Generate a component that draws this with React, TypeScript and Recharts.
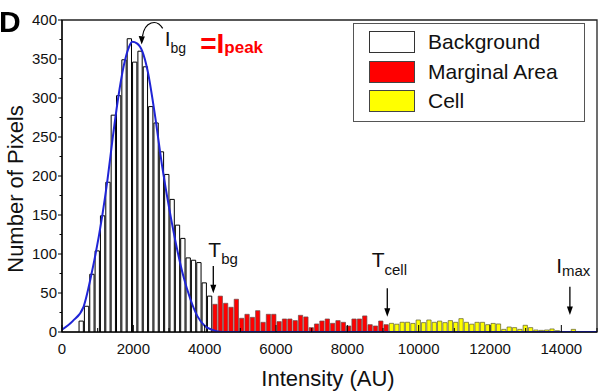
import React from 'react';
import {
  ComposedChart,
  Bar,
  Line,
  XAxis,
  YAxis,
  ReferenceArea,
  ReferenceDot,
  Legend,
  Label,
} from 'recharts';

const FONT = '"Liberation Sans", Arial, Helvetica, sans-serif';

// histogram bins of 150 AU each, starting at 0
const binWidth = 150;
const backgroundCounts = [
  null, null, null, 14, 33, 74, 104, 149, 192, 278, 303, 349, 376, 346, 360, 340,
  289, 268, 231, 202, 170, 137, 120, 95, 92, 89, 63, 46,
];
const marginalCounts = [
  35.5, 46, 36.8, 31.7, 42, 17.6, 22.7, 18.8, 27.4, 12.4, 22.7, 22.7, 13.3, 16.7,
  16.7, 14.6, 21.4, 19.3, 5.6, 10.3, 14.1, 16.7, 11.1, 14.6, 12.4, 7.7, 16.7, 16.7,
  20.6, 9.4, 7.7, 14.1, 9.4,
];
const cellCounts = [
  11.1, 10, 12.5, 12.5, 11, 15.4, 12, 15.4, 12.4, 14, 12, 14.6, 12.4, 17.1, 12.4, 10,
  12.4, 12.4, 9.4, 11, 10.3, 3.4, 6.4, 5.6, 3.4, 8.6, 5.6, 2.6, 2.1, 2.6, 3.9, 1.7,
  0, 0, 3.4, 0, 0, 0, 0,
];

// fitted curve
const fitIntensity = [
  0, 300, 600, 825, 1125, 1275, 1425, 1575, 1725, 1875, 1970, 2100, 2250, 2400, 2600,
  2800, 3000, 3200, 3400, 3600, 3800, 4000, 4200, 4500, 15000,
];
const fitCounts = [
  3, 14, 32, 74, 148, 195, 250, 300, 340, 365, 372, 370, 360, 335, 280, 215, 160, 112,
  72, 42, 20, 8, 3, 0, 0,
];

const xTicks = [0, 1000, 2000, 3000, 4000, 5000, 6000, 7000, 8000, 9000, 10000, 11000, 12000, 13000, 14000, 15000];
const yTicks = [0, 25, 50, 75, 100, 125, 150, 175, 200, 225, 250, 275, 300, 325, 350, 375, 400];

const seriesKeys = ['bg', 'marg', 'cell'] as const;
const seriesNames = { bg: 'Background', marg: 'Marginal Area', cell: 'Cell' };
const seriesFill = { bg: '#ffffff', marg: '#ff0000', cell: '#ffff00' };
const seriesStroke = { bg: '#000000', marg: '#6a4a4a', cell: '#5a5a30' };

const histogram = [
  ...backgroundCounts.map((v) => ({ bg: v })),
  ...marginalCounts.map((v) => ({ marg: v })),
  ...cellCounts.map((v) => ({ cell: v })),
].map((d, i) => ({ bin: i * binWidth + binWidth / 2, ...d }));

const fitData = fitIntensity.map((x, i) => ({ intensity: x, fit: fitCounts[i] }));

const XTick = (p: any) => {
  const { x, y, payload } = p;
  const v = payload.value;
  const major = v % 2000 === 0;
  return (
    <g>
      <line x1={x} x2={x} y1={y} y2={y - (major ? 7 : 4)} stroke="#000" strokeWidth={1} />
      {major && v < 15000 && (
        <text x={x} y={y + 21.5} textAnchor="middle" fontSize={15} fontFamily={FONT} fill="#111">
          {v}
        </text>
      )}
    </g>
  );
};

const YTick = (p: any) => {
  const { x, y, payload } = p;
  const v = payload.value;
  const major = v % 50 === 0;
  return (
    <g>
      <line x1={x} x2={x - (major ? 4 : 2.5)} y1={y} y2={y} stroke="#000" strokeWidth={1} />
      {major && (
        <text x={x - 5} y={y + 5.3} textAnchor="end" fontSize={15} fontFamily={FONT} fill="#111">
          {v}
        </text>
      )}
    </g>
  );
};

const XLabel = (props: any) => {
  const vb = props.viewBox || {};
  return (
    <text x={vb.x + vb.width / 2 - 1.5} y={vb.y + 54} textAnchor="middle" fontSize={22} fontFamily={FONT} fill="#111">
      Intensity (AU)
    </text>
  );
};

const YLabel = (props: any) => {
  const vb = props.viewBox || {};
  const cx = 15.5;
  const cy = vb.y + vb.height / 2 + 13;
  return (
    <text
      x={cx}
      y={cy}
      textAnchor="middle"
      dominantBaseline="central"
      transform={`rotate(-90, ${cx}, ${cy})`}
      fontSize={22}
      fontFamily={FONT}
      fill="#111"
    >
      Number of Pixels
    </text>
  );
};

const LegendBox = (props: any) => {
  const items = (props.payload || [])
    .filter((e: any) => seriesKeys.includes(e.dataKey))
    .sort((a: any, b: any) => seriesKeys.indexOf(a.dataKey) - seriesKeys.indexOf(b.dataKey));
  return (
    <div
      style={{
        width: 232,
        height: 99,
        boxSizing: 'border-box',
        border: '1px solid #555',
        background: '#fff',
        position: 'relative',
        fontFamily: FONT,
        fontSize: 21,
        color: '#111',
      }}
    >
      {items.map((e: any, i: number) => (
        <div key={e.dataKey} style={{ position: 'absolute', left: 0, top: [7, 37.3, 66.3][i], height: 23, width: 232 }}>
          <div
            style={{
              position: 'absolute',
              left: 15,
              top: 0,
              width: 46,
              height: 22,
              boxSizing: 'border-box',
              background: seriesFill[e.dataKey as keyof typeof seriesFill],
              border: `1px solid ${e.dataKey === 'bg' ? '#333' : '#444'}`,
            }}
          />
          <div style={{ position: 'absolute', left: 74, top: 0, height: 22, lineHeight: '22px', whiteSpace: 'nowrap' }}>
            {e.value}
          </div>
        </div>
      ))}
    </div>
  );
};

const DownArrow = (props: any) => {
  const { cx, cy, len, main, sub, tx, ty, subDy } = props;
  return (
    <g>
      <line x1={cx} x2={cx} y1={cy - len} y2={cy - 7} stroke="#000" strokeWidth={1.3} />
      <polygon points={`${cx},${cy} ${cx - 3},${cy - 8.5} ${cx + 3},${cy - 8.5}`} fill="#000" />
      <text x={cx + tx} y={cy + ty} fontSize={21} fontFamily={FONT} fill="#111">
        {main}
        <tspan fontSize={15} dy={subDy}>
          {sub}
        </tspan>
      </text>
    </g>
  );
};

const PeakNote = (props: any) => {
  const { cx, cy } = props;
  return (
    <g>
      <path
        d={`M ${cx + 21} ${cy - 16} C ${cx + 15} ${cy - 26} ${cx + 3} ${cy - 23} ${cx + 0.8} ${cy - 8}`}
        fill="none"
        stroke="#000"
        strokeWidth={1.2}
      />
      <polygon points={`${cx},${cy} ${cx - 3},${cy - 8.5} ${cx + 3.2},${cy - 8}`} fill="#000" />
      <text x={cx + 23} y={cy + 1.7} fontSize={21} fontFamily={FONT} fill="#111">
        I
        <tspan fontSize={14} dy={6.6}>
          bg
        </tspan>
      </text>
      <text x={cx + 58.5} y={cy + 8.3} fontSize={28} fontWeight="bold" fontFamily={FONT} fill="#ff0000">
        =I
        <tspan fontSize={17} dy={0}>
          peak
        </tspan>
      </text>
    </g>
  );
};

export default function App() {
  return (
    <div style={{ position: 'fixed', left: 0, top: 0, width: 610, height: 392, background: '#fff' }}>
      <ComposedChart width={610} height={392} data={histogram} margin={{ top: 20, right: 13, bottom: 0, left: 0 }}>
        <XAxis xAxisId="bins" type="category" dataKey="bin" orientation="top" height={0} hide />
        <XAxis
          xAxisId="num"
          type="number"
          dataKey="intensity"
          domain={[0, 15000]}
          ticks={xTicks}
          interval={0}
          tickSize={0}
          tickMargin={0}
          tickLine={false}
          tick={(p: any) => <XTick {...p} />}
          height={60}
          axisLine={{ stroke: '#000', strokeWidth: 1.2 }}
          allowDataOverflow
        >
          <Label content={XLabel} />
        </XAxis>
        <YAxis
          type="number"
          domain={[0, 400]}
          ticks={yTicks}
          interval={0}
          width={62}
          tickSize={0}
          tickMargin={0}
          tickLine={false}
          tick={(p: any) => <YTick {...p} />}
          axisLine={{ stroke: '#000', strokeWidth: 1.2 }}
          allowDataOverflow
        >
          <Label content={YLabel} />
        </YAxis>
        <ReferenceArea xAxisId="num" x1={0} x2={15000} y1={0} y2={400} fill="none" stroke="#222" strokeWidth={1.3} fillOpacity={0} ifOverflow="visible" />
        {seriesKeys.map((k) => (
          <Bar
            key={k}
            xAxisId="bins"
            dataKey={k}
            name={seriesNames[k]}
            stackId="h"
            barSize={4.3}
            fill={seriesFill[k]}
            stroke={seriesStroke[k]}
            strokeWidth={k === 'bg' ? 1 : 0.7}
            isAnimationActive={false}
            legendType="rect"
          />
        ))}
        <Line
          xAxisId="num"
          data={fitData}
          dataKey="fit"
          type="monotone"
          stroke="#1f24d6"
          strokeWidth={2}
          dot={false}
          activeDot={false}
          legendType="none"
          isAnimationActive={false}
        />
        <Legend
          layout="vertical"
          align="center"
          verticalAlign="middle"
          wrapperStyle={{ left: 353, top: 23, width: 232, height: 99 }}
          content={LegendBox}
        />
        <ReferenceDot xAxisId="num" x={4242} y={49.7} r={0} ifOverflow="visible" shape={(p: any) => <DownArrow {...p} len={27.3} main="T" sub="bg" tx={-5} ty={-36.6} subDy={7} />} />
        <ReferenceDot xAxisId="num" x={9120} y={19.6} r={0} ifOverflow="visible" shape={(p: any) => <DownArrow {...p} len={28.4} main="T" sub="cell" tx={-15.6} ty={-50} subDy={8.3} />} />
        <ReferenceDot xAxisId="num" x={14240} y={21.8} r={0} ifOverflow="visible" shape={(p: any) => <DownArrow {...p} len={28.3} main="I" sub="max" tx={-13.7} ty={-41.7} subDy={2.5} />} />
        <ReferenceDot xAxisId="num" x={2234} y={368.7} r={0} ifOverflow="visible" shape={(p: any) => <PeakNote {...p} />} />
      </ComposedChart>
      <div
        style={{
          position: 'absolute',
          left: -1,
          top: 7,
          fontFamily: FONT,
          fontWeight: 'bold',
          fontSize: 30,
          lineHeight: '30px',
          color: '#000',
        }}
      >
        D
      </div>
    </div>
  );
}
